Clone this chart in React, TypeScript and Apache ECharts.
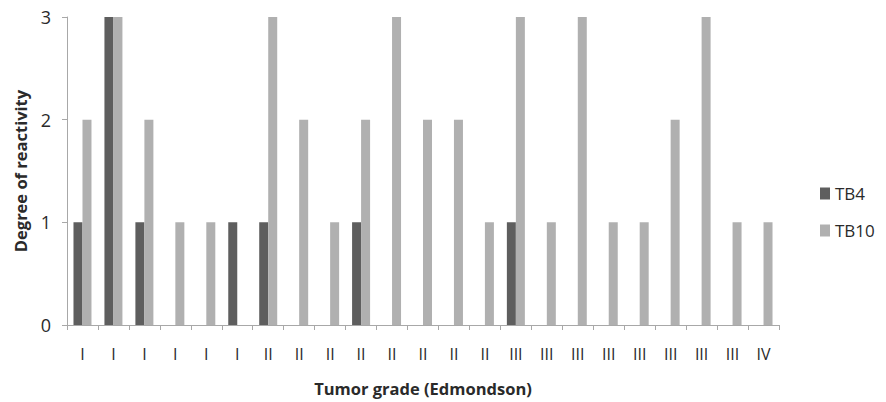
import React, { useEffect, useRef } from "react";
import * as echarts from "echarts";

const categories = [
  "I", "I", "I", "I", "I", "I",
  "II", "II", "II", "II", "II", "II", "II", "II",
  "III", "III", "III", "III", "III", "III", "III", "III",
  "IV",
];
const tb4 = [1, 3, 1, 0, 0, 1, 1, 0, 0, 1, 0, 0, 0, 0, 1, 0, 0, 0, 0, 0, 0, 0, 0];
const tb10 = [2, 3, 2, 1, 1, 0, 3, 2, 1, 2, 3, 2, 2, 1, 3, 1, 3, 1, 1, 2, 3, 1, 1];
const yTicks = [0, 1, 2, 3];

const FONT = "'Open Sans', 'Noto Sans', sans-serif";

export default function App() {
  const ref = useRef<HTMLDivElement>(null);
  useEffect(() => {
    document.body.style.margin = "0";
    const chart = echarts.init(ref.current!, null, { renderer: "svg" });
    chart.setOption({
      animation: false,
      backgroundColor: "#ffffff",
      textStyle: { fontFamily: FONT },
      grid: { left: 67, right: 107, top: 17, bottom: 71 },
      legend: {
        orient: "vertical",
        left: 815,
        top: 180,
        itemWidth: 10,
        itemHeight: 12,
        itemGap: 20,
        icon: "rect",
        textStyle: { fontSize: 17, color: "#2a2a2a", fontFamily: FONT },
        data: ["TB4", "TB10"],
      },
      xAxis: {
        type: "category",
        data: categories,
        boundaryGap: true,
        name: "Tumor grade (Edmondson)",
        nameLocation: "middle",
        nameGap: 55,
        nameTextStyle: { fontSize: 16.5, fontWeight: "bold", color: "#2a2a2a", fontFamily: FONT },
        axisLine: { lineStyle: { color: "#a8a8a8", width: 1 } },
        axisTick: { show: true, alignWithLabel: false, length: 5, lineStyle: { color: "#a8a8a8" } },
        axisLabel: { interval: 0, margin: 21, fontSize: 16, color: "#2a2a2a", fontFamily: FONT },
      },
      yAxis: {
        type: "value",
        min: yTicks[0],
        max: yTicks[yTicks.length - 1],
        interval: 1,
        name: "Degree of reactivity",
        nameLocation: "middle",
        nameGap: 38,
        nameTextStyle: { fontSize: 16.5, fontWeight: "bold", color: "#2a2a2a", fontFamily: FONT },
        axisLine: { show: true, lineStyle: { color: "#a8a8a8", width: 1 } },
        axisTick: { show: true, length: 5, lineStyle: { color: "#a8a8a8" } },
        splitLine: { show: false },
        axisLabel: { margin: 16, fontSize: 18, color: "#2a2a2a", fontFamily: FONT },
      },
      series: [
        {
          name: "TB4",
          type: "bar",
          data: tb4,
          barWidth: 9,
          barGap: "0%",
          itemStyle: { color: "#5e5e5e" },
        },
        {
          name: "TB10",
          type: "bar",
          data: tb10,
          barWidth: 9,
          barGap: "0%",
          itemStyle: { color: "#b0b0b0" },
        },
      ],
    });
    return () => chart.dispose();
  }, []);
  return <div ref={ref} style={{ width: 886, height: 402 }} />;
}
